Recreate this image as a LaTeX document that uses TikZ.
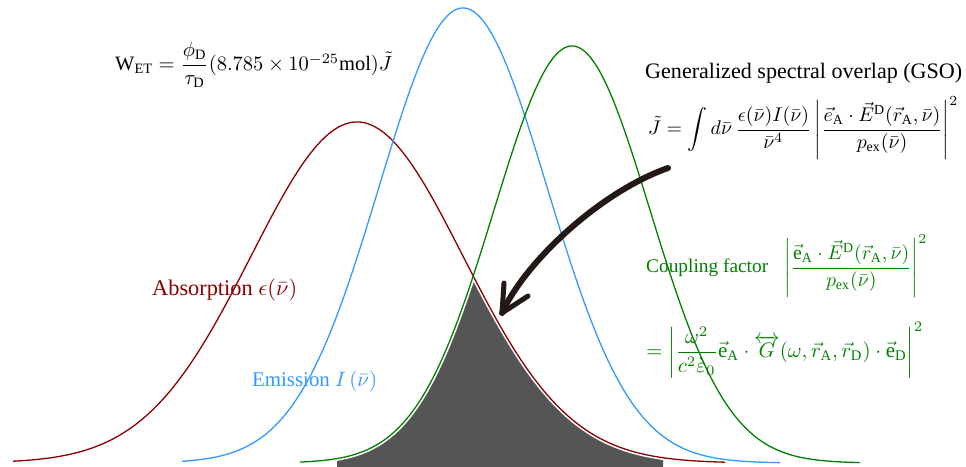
\documentclass[tikz,border=0pt]{standalone}
\usepackage{amsmath}
\usepackage{graphicx}
\usepackage{fontspec}
\setmainfont{Liberation Serif}
\definecolor{absred}{RGB}{139,0,0}
\definecolor{emblue}{RGB}{51,153,255}
\definecolor{cgreen}{RGB}{0,128,0}
\definecolor{shadegray}{RGB}{85,85,85}
\definecolor{arrowc}{RGB}{35,24,21}
\begin{document}
\begin{tikzpicture}[x=1pt,y=-1pt,
  curve/.style={line width=1.3pt},
  lbl/.style={inner sep=0pt, anchor=west},
  handarrow/.style={arrowc, line width=6pt, line cap=round, line join=round}]
\useasboundingbox (0,0) rectangle (966,466);
\clip (0,0) rectangle (966,466);
% overlap shade
\fill[shadegray] plot[domain=337:663,samples=220]
  (\x,{463-min(341*exp(-0.5*((\x-357)/106)^2),417*exp(-0.5*((\x-572)/78)^2))})
  -- (663,470) -- (337,470) -- cycle;
\draw[white, line width=4.5pt, line join=miter] plot[domain=320:700,samples=220]
  (\x,{463-min(341*exp(-0.5*((\x-357)/106)^2),417*exp(-0.5*((\x-572)/78)^2))});
% spectra
\draw[curve, absred] plot[domain=13:725,samples=200]
  (\x,{463-341*exp(-0.5*((\x-357)/106)^2)});
\draw[curve, emblue] plot[domain=182:780,samples=200]
  (\x,{463-455*exp(-0.5*((\x-463)/84)^2)});
\draw[curve, cgreen] plot[domain=300:860,samples=200]
  (\x,{463-417*exp(-0.5*((\x-572)/78)^2)});
% labels
\node[lbl] (wet) at (115,65) {\resizebox{277pt}{!}{$\mathrm{W}_{\mathrm{ET}}=\dfrac{\phi_\mathrm{D}}{\tau_\mathrm{D}}(8.785\times10^{-25}\mathrm{mol})\tilde{J}$}};
\node[lbl] (gso) at (645,73) {\resizebox{317pt}{!}{Generalized spectral overlap (GSO)}};
\node[lbl] (jeq) at (648,128) {\resizebox{310pt}{!}{$\displaystyle\tilde{J}=\int d\bar{\nu}\,\frac{\epsilon(\bar{\nu})I(\bar{\nu})}{\bar{\nu}^4}\left|\frac{\vec{e}_\mathrm{A}\cdot\vec{E}^\mathrm{D}(\vec{r}_\mathrm{A},\bar{\nu})}{p_\mathrm{ex}(\bar{\nu})}\right|^2$}};
\node[lbl, text=cgreen] (coup) at (646,266) {\resizebox{122pt}{!}{Coupling factor}\hspace{16pt}\resizebox{143pt}{!}{$\displaystyle\left|\frac{\vec{\mathrm{e}}_\mathrm{A}\cdot\vec{E}^\mathrm{D}(\vec{r}_\mathrm{A},\bar{\nu})}{p_\mathrm{ex}(\bar{\nu})}\right|^2$}};
\node[lbl, text=cgreen] (greq) at (646,350) {\resizebox{277pt}{!}{$\displaystyle=\left|\frac{\omega^2}{c^2\grave{\varepsilon}_0}\vec{\mathrm{e}}_\mathrm{A}\cdot\overleftrightarrow{G}(\omega,\vec{r}_\mathrm{A},\vec{r}_\mathrm{D})\cdot\vec{\mathrm{e}}_\mathrm{D}\right|^2$}};
\node[lbl, text=absred] (abs) at (152,290) {\resizebox{145pt}{!}{Absorption $\epsilon(\bar{\nu})$}};
\node[lbl, text=emblue] (emi) at (252,381) {\resizebox{125pt}{!}{Emission $I\,(\bar{\nu})$}};
% hand-drawn arrow
\coordinate (astart) at (668,168);
\coordinate (atip) at (502,313);
\coordinate (aleft) at (504,283);
\coordinate (aright) at (528,296);
\draw[handarrow] (astart) .. controls (600,192) and (525,262) .. (atip);
\draw[arrowc, line width=5pt, line cap=round, line join=round] (aleft) -- (atip) -- (aright);
\end{tikzpicture}
\end{document}
